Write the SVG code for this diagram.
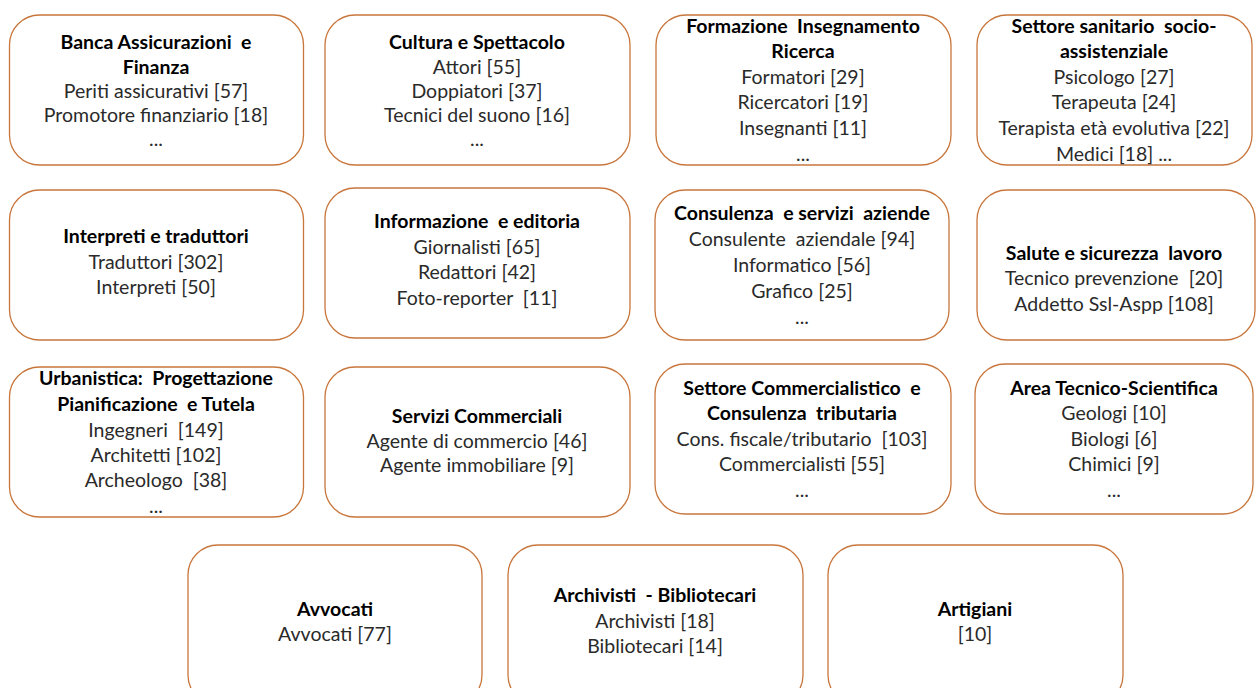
<svg xmlns="http://www.w3.org/2000/svg" width="1258" height="688" viewBox="0 0 1258 688">
<style>
.box{fill:#fff;stroke:#C8763C;stroke-width:1.3}
text{font-family:Lato,"Open Sans",sans-serif;font-size:19.5px;text-anchor:middle;fill:#2a2a2a;white-space:pre}
.t{font-weight:bold;fill:#000}
</style>
<rect width="1258" height="688" fill="#fff"/>
<g id="connectors"/>
<g id="n1"><rect class="box" x="9.5" y="15" width="294" height="150" rx="30"/>
<text x="156" y="49" class="t">Banca Assicurazioni  e</text><text x="156" y="74" class="t">Finanza</text>
<text x="156" y="98">Periti assicurativi [57]</text><text x="156" y="122">Promotore finanziario [18]</text><text x="156" y="146">...</text></g>
<g id="n2"><rect class="box" x="325" y="15" width="305" height="150" rx="30"/>
<text x="477" y="49" class="t">Cultura e Spettacolo</text><text x="477" y="74">Attori [55]</text>
<text x="477" y="98">Doppiatori [37]</text><text x="477" y="122">Tecnici del suono [16]</text><text x="477" y="146">...</text></g>
<g id="n3"><rect class="box" x="656" y="15" width="295" height="150" rx="30"/>
<text x="803" y="33" class="t">Formazione  Insegnamento</text><text x="803" y="58" class="t">Ricerca</text>
<text x="803" y="84">Formatori [29]</text><text x="803" y="109">Ricercatori [19]</text><text x="803" y="135">Insegnanti [11]</text><text x="803" y="161">...</text></g>
<g id="n4"><rect class="box" x="977" y="15" width="275" height="150" rx="30"/>
<text x="1114" y="33" class="t">Settore sanitario  socio-</text><text x="1114" y="58" class="t">assistenziale</text>
<text x="1114" y="84">Psicologo [27]</text><text x="1114" y="109">Terapeuta [24]</text><text x="1114" y="135">Terapista età evolutiva [22]</text><text x="1114" y="161">Medici [18] ...</text></g>
<g id="n5"><rect class="box" x="9.5" y="190" width="294" height="150" rx="30"/>
<text x="156" y="243" class="t">Interpreti e traduttori</text><text x="156" y="269">Traduttori [302]</text><text x="156" y="294">Interpreti [50]</text></g>
<g id="n6"><rect class="box" x="325" y="188" width="305" height="150" rx="30"/>
<text x="477" y="228" class="t">Informazione  e editoria</text><text x="477" y="254">Giornalisti [65]</text><text x="477" y="279">Redattori [42]</text><text x="477" y="305">Foto-reporter  [11]</text></g>
<g id="n7"><rect class="box" x="655" y="190" width="294" height="150" rx="30"/>
<text x="802" y="220" class="t">Consulenza  e servizi  aziende</text><text x="802" y="246">Consulente  aziendale [94]</text><text x="802" y="272">Informatico [56]</text><text x="802" y="298">Grafico [25]</text><text x="802" y="324">...</text></g>
<g id="n8"><rect class="box" x="977" y="190" width="278" height="150" rx="30"/>
<text x="1114" y="260" class="t">Salute e sicurezza  lavoro</text><text x="1114" y="285">Tecnico prevenzione  [20]</text><text x="1114" y="311">Addetto Ssl-Aspp [108]</text></g>
<g id="n9"><rect class="box" x="9.5" y="367" width="294" height="150" rx="30"/>
<text x="156" y="385" class="t">Urbanistica:  Progettazione</text><text x="156" y="411" class="t">Pianificazione  e Tutela</text>
<text x="156" y="437">Ingegneri  [149]</text><text x="156" y="462">Architetti [102]</text><text x="156" y="487">Archeologo  [38]</text><text x="156" y="513">...</text></g>
<g id="n10"><rect class="box" x="325" y="367" width="305" height="150" rx="30"/>
<text x="477" y="423" class="t">Servizi Commerciali</text><text x="477" y="448">Agente di commercio [46]</text><text x="477" y="472">Agente immobiliare [9]</text></g>
<g id="n11"><rect class="box" x="655" y="364" width="296" height="150" rx="30"/>
<text x="802" y="395" class="t">Settore Commercialistico  e</text><text x="802" y="420" class="t">Consulenza  tributaria</text>
<text x="802" y="446">Cons. fiscale/tributario  [103]</text><text x="802" y="471">Commercialisti [55]</text><text x="802" y="497">...</text></g>
<g id="n12"><rect class="box" x="975" y="364" width="278" height="150" rx="30"/>
<text x="1114" y="395" class="t">Area Tecnico-Scientifica</text><text x="1114" y="420">Geologi [10]</text><text x="1114" y="446">Biologi [6]</text><text x="1114" y="471">Chimici [9]</text><text x="1114" y="497">...</text></g>
<g id="n13"><rect class="box" x="188" y="545" width="294" height="160" rx="30"/>
<text x="335" y="616" class="t">Avvocati</text><text x="335" y="641">Avvocati [77]</text></g>
<g id="n14"><rect class="box" x="508" y="545" width="295" height="160" rx="30"/>
<text x="655" y="602" class="t">Archivisti  - Bibliotecari</text><text x="655" y="628">Archivisti [18]</text><text x="655" y="653">Bibliotecari [14]</text></g>
<g id="n15"><rect class="box" x="828" y="545" width="295" height="160" rx="30"/>
<text x="975" y="616" class="t">Artigiani</text><text x="975" y="641">[10]</text></g>
</svg>
